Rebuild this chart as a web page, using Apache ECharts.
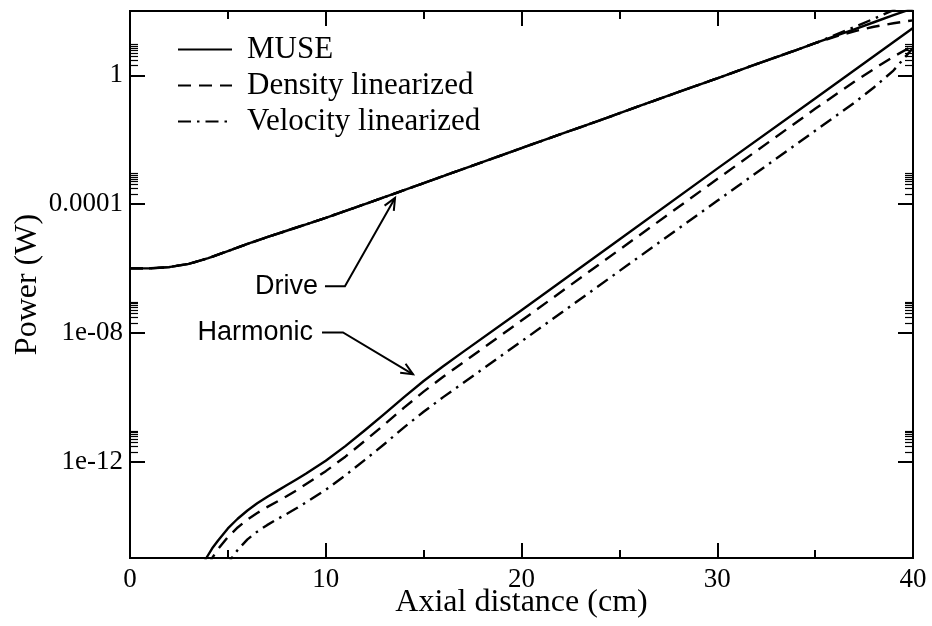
<!DOCTYPE html>
<html><head><meta charset="utf-8">
<script src="https://cdn.jsdelivr.net/npm/echarts@6/dist/echarts.min.js"></script>
<style>html,body{margin:0;padding:0;background:#fff}#c{width:932px;height:626px}</style>
</head><body><div id="c"></div>
<script>
// ---- data ----
const seriesNames = ['MUSE', 'Density linearized', 'Velocity linearized'];

const driveX        = [0, 1, 2, 3, 4, 5, 6, 7, 8, 9, 10, 12, 14, 16, 18, 20, 22, 24, 26, 28, 30, 32, 34, 35, 36, 37, 38, 39, 40];
const driveMuse     = [1.0e-6, 1.0e-6, 1.1e-6, 1.38e-6, 2.09e-6, 3.47e-6, 5.75e-6, 9.33e-6, 1.48e-5, 2.34e-5, 3.72e-5, 1.0e-4, 2.69e-4, 7.41e-4, 2.0e-3, 5.5e-3, 1.48e-2, 3.98e-2, 0.11, 0.30, 0.81, 2.24, 6.0, 10, 16.6, 26.9, 44.7, 74, 120];
const driveDensity  = [1.0e-6, 1.0e-6, 1.1e-6, 1.38e-6, 2.09e-6, 3.47e-6, 5.75e-6, 9.33e-6, 1.48e-5, 2.34e-5, 3.72e-5, 1.0e-4, 2.69e-4, 7.41e-4, 2.0e-3, 5.5e-3, 1.48e-2, 3.98e-2, 0.11, 0.30, 0.81, 2.24, 6.0, 10, 15.8, 23.4, 32.4, 41.7, 51.3];
const driveVelocity = [1.0e-6, 1.0e-6, 1.1e-6, 1.38e-6, 2.09e-6, 3.47e-6, 5.75e-6, 9.33e-6, 1.48e-5, 2.34e-5, 3.72e-5, 1.0e-4, 2.69e-4, 7.41e-4, 2.0e-3, 5.5e-3, 1.48e-2, 3.98e-2, 0.11, 0.30, 0.81, 2.24, 6.0, 10, 17.8, 31.6, 57.5, 107, 200];

const harmMuseX = [3.7, 3.9, 4.2, 4.5, 5, 5.5, 6, 6.5, 7, 7.5, 8, 8.5, 9, 10, 11, 12, 13, 14, 15, 16, 17, 20, 25, 30, 35, 40];
const harmMuse  = [5.6e-16, 1.0e-15, 2.0e-15, 3.5e-15, 8.3e-15, 1.66e-14, 3.0e-14, 5.0e-14, 7.9e-14, 1.2e-13, 1.82e-13, 2.75e-13, 4.2e-13, 1.05e-12, 3.0e-12, 9.3e-12, 3.0e-11, 1.0e-10, 3.16e-10, 9.1e-10, 2.5e-9, 5.0e-8, 7.9e-6, 1.26e-3, 0.19, 29.5];

const harmDensX = [4.0, 4.2, 4.5, 5, 5.5, 6, 6.5, 7, 7.5, 8, 8.5, 9, 10, 11, 12, 13, 14, 15, 16, 17, 20, 25, 30, 35, 37, 38, 39, 40];
const harmDens  = [5.6e-16, 1.0e-15, 1.9e-15, 4.5e-15, 8.9e-15, 1.58e-14, 2.5e-14, 3.8e-14, 5.6e-14, 8.3e-14, 1.26e-13, 2.0e-13, 5.0e-13, 1.41e-12, 4.4e-12, 1.41e-11, 4.7e-11, 1.48e-10, 4.3e-10, 1.17e-9, 2.4e-8, 3.8e-6, 6.0e-4, 9.1e-2, 0.63, 1.58, 3.8, 8.3];

const harmVelX = [4.9, 5.2, 5.5, 6, 6.5, 7, 7.5, 8, 8.5, 9, 10, 11, 12, 13, 14, 15, 16, 17, 20, 25, 30, 35, 37, 38, 39, 40];
const harmVel  = [5.0e-16, 1.0e-15, 1.78e-15, 3.8e-15, 6.6e-15, 1.05e-14, 1.58e-14, 2.34e-14, 3.5e-14, 5.4e-14, 1.32e-13, 3.7e-13, 1.12e-12, 3.5e-12, 1.15e-11, 3.5e-11, 1.0e-10, 2.7e-10, 5.4e-9, 8.3e-7, 1.26e-4, 1.9e-2, 0.141, 0.42, 1.41, 7.1];

const xMajorTicks = [0, 10, 20, 30, 40];
const xMinorTicks = [5, 15, 25, 35];
const yMajorExps  = [-12, -8, -4, 0];
const yTickLabels = ['1e-12', '1e-08', '0.0001', '1'];
const yMinorMult  = [2, 3, 4, 5, 6, 7, 8, 9];

// annotations (data coordinates)
const driveLabel = {text: 'Drive',    at: [9.6, 2.79e-7], path: [[9.96, 2.79e-7], [10.98, 2.79e-7], [13.54, 1.55e-4]]};
const harmLabel  = {text: 'Harmonic', at: [9.35, 1.02e-8], path: [[9.81, 1.02e-8], [10.88, 1.02e-8], [14.46, 5.1e-10]]};

// ---- chart ----
const SERIF = '"Liberation Serif","Times New Roman",serif';
const SANS = '"Liberation Sans",Arial,sans-serif';
const yMinorExps = [];
yMajorExps.forEach(k => yMinorMult.forEach(m => yMinorExps.push(k + Math.log10(m))));

const styles = [
  {type: 'solid'},
  {type: [13, 8]},
  {type: [13, 6, 2.5, 6]}
];
function zip(xs, ys) { return xs.map((x, i) => [x, ys[i]]); }
function mkSeries(name, data, idx) {
  return {
    type: 'line', name: name, data: data, xAxisIndex: 0, yAxisIndex: 0,
    symbol: 'none', showSymbol: false, smooth: false, clip: true, silent: true,
    lineStyle: {color: '#000', width: 2.4, type: styles[idx].type, join: 'round'},
    itemStyle: {color: '#000'}, z: 3
  };
}
const axLine = {show: true, onZero: false, lineStyle: {color: '#000', width: 2}};
const xMin = 0, xMax = 40, yMinExp = -15, yMaxExp = 2;

function xAx(pos, values, len, labels, tw) {
  return {
    type: 'value', position: pos, min: xMin, max: xMax, interval: 10,
    axisLine: axLine, splitLine: {show: false},
    axisTick: {show: true, inside: true, length: len, customValues: values, lineStyle: {color: '#000', width: tw}},
    axisLabel: labels ? {show: true, customValues: values, fontFamily: SERIF, fontSize: 27, color: '#000', margin: 8} : {show: false},
    name: labels ? 'Axial distance (cm)' : '', nameLocation: 'middle', nameGap: 29, nameMoveOverlap: false,
    nameTextStyle: {fontFamily: SERIF, fontSize: 32, color: '#000'}
  };
}
function yAx(pos, values, len, labels, tw) {
  return {
    type: 'value', position: pos, min: yMinExp, max: yMaxExp,
    axisLine: axLine, splitLine: {show: false},
    axisTick: {show: true, inside: true, length: len, customValues: values, lineStyle: {color: '#000', width: tw}},
    axisLabel: labels ? {show: true, customValues: values, fontFamily: SERIF, fontSize: 27, color: '#000', margin: 7,
      formatter: v => { const i = yMajorExps.indexOf(Math.round(v)); return i >= 0 ? yTickLabels[i] : ''; }} : {show: false},
    name: labels ? 'Power (W)' : '', nameLocation: 'middle', nameGap: 86, nameMoveOverlap: false,
    nameTextStyle: {fontFamily: SERIF, fontSize: 32, color: '#000'}
  };
}

const option = {
  animation: false,
  backgroundColor: '#fff',
  grid: {left: 130, right: 19, top: 11, bottom: 68, containLabel: false, outerBoundsMode: 'none'},
  legend: {
    show: true, orient: 'vertical', left: 177, top: 34, padding: 0, itemWidth: 54, itemHeight: 14, itemGap: 5,
    data: seriesNames, selectedMode: false,
    itemStyle: {color: 'rgba(0,0,0,0)', borderColor: 'rgba(0,0,0,0)', borderWidth: 0},
    textStyle: {fontFamily: SERIF, fontSize: 31, color: '#000', lineHeight: 30, padding: [0, 0, 0, 10]}
  },
  xAxis: [
    xAx('bottom', xMajorTicks, 15, true, 2),
    xAx('bottom', xMinorTicks, 8, false, 2),
    xAx('top', xMajorTicks, 15, false, 2),
    xAx('top', xMinorTicks, 8, false, 2)
  ],
  yAxis: [
    {type: 'log', logBase: 10, position: 'left', min: Math.pow(10, yMinExp), max: Math.pow(10, yMaxExp),
     axisLine: {show: false}, axisTick: {show: false}, axisLabel: {show: false}, splitLine: {show: false}, minorTick: {show: false}},
    yAx('left', yMajorExps, 15, true, 2),
    yAx('left', yMinorExps, 8, false, 1.2),
    yAx('right', yMajorExps, 15, false, 2),
    yAx('right', yMinorExps, 8, false, 1.2)
  ],
  series: [
    mkSeries(seriesNames[0], zip(driveX, driveMuse), 0),
    mkSeries(seriesNames[1], zip(driveX, driveDensity), 1),
    mkSeries(seriesNames[2], zip(driveX, driveVelocity), 2),
    mkSeries(seriesNames[0], zip(harmMuseX, harmMuse), 0),
    mkSeries(seriesNames[1], zip(harmDensX, harmDens), 1),
    mkSeries(seriesNames[2], zip(harmVelX, harmVel), 2)
  ]
};

const chart = echarts.init(document.getElementById('c'), null, {renderer: 'canvas'});
chart.setOption(option);

function px(p) { return chart.convertToPixel({xAxisIndex: 0, yAxisIndex: 0}, p); }
function annot(a) {
  const pts = a.path.map(px);
  const tip = pts[pts.length - 1], prev = pts[pts.length - 2];
  const ang = Math.atan2(tip[1] - prev[1], tip[0] - prev[0]);
  const L = 13, w = 0.42;
  const h1 = [tip[0] - L * Math.cos(ang - w), tip[1] - L * Math.sin(ang - w)];
  const h2 = [tip[0] - L * Math.cos(ang + w), tip[1] - L * Math.sin(ang + w)];
  const t = px(a.at);
  return [
    {type: 'text', x: t[0], y: t[1], style: {text: a.text, fontFamily: SANS, fontSize: 27, fill: '#000', align: 'right', verticalAlign: 'middle'}, z: 10},
    {type: 'polyline', shape: {points: pts}, style: {stroke: '#000', lineWidth: 2, fill: null}, z: 10},
    {type: 'polyline', shape: {points: [h1, tip, h2]}, style: {stroke: '#000', lineWidth: 2, fill: null}, z: 10}
  ];
}
chart.setOption({graphic: {elements: annot(driveLabel).concat(annot(harmLabel))}});
</script>
</body></html>
